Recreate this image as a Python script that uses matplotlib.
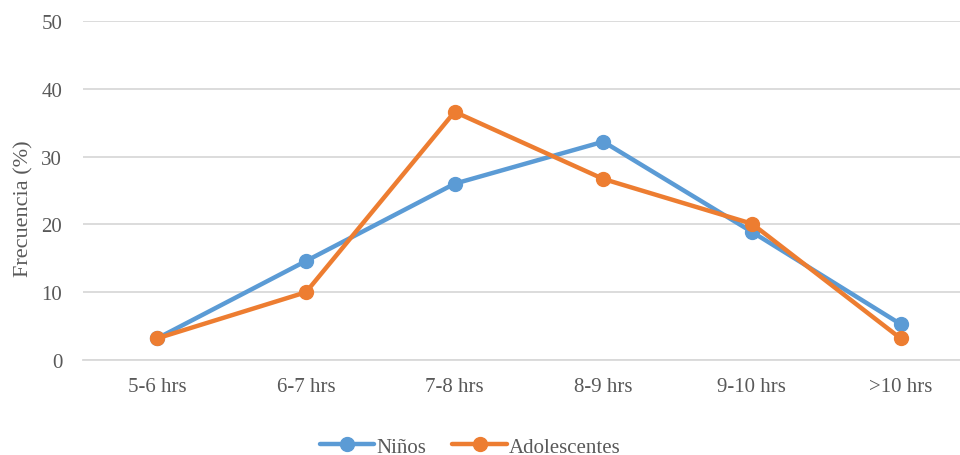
import matplotlib.pyplot as plt

categorias = ['5-6 hrs', '6-7 hrs', '7-8 hrs', '8-9 hrs', '9-10 hrs', '>10 hrs']
ninos = [3.2, 14.6, 26.0, 32.2, 18.9, 5.3]
adolescentes = [3.2, 10.0, 36.6, 26.7, 20.1, 3.2]

plt.rcParams['font.family'] = ['Liberation Serif', 'DejaVu Serif']
gris = '#595959'

fig = plt.figure(figsize=(9.6, 4.56), dpi=100)
ax = fig.add_axes([0.0865, 0.2083, 0.929, 0.7435])

x = range(len(categorias))
ax.plot(x, ninos, color='#5B9BD5', lw=3.2, marker='o', ms=10, label='Niños',
        solid_capstyle='round', solid_joinstyle='round')
ax.plot(x, adolescentes, color='#ED7D31', lw=3.2, marker='o', ms=10,
        label='Adolescentes', solid_capstyle='round', solid_joinstyle='round')

ax.set_xlim(-0.5, len(categorias) - 0.5)
ax.set_ylim(0, 50)
ax.set_yticks(range(0, 51, 10))
ax.set_xticks(list(x))
ax.set_xticklabels(categorias)
ax.grid(axis='y', color='#D9D9D9', lw=1.3)
ax.set_axisbelow(True)
for s in ['top', 'right', 'left']:
    ax.spines[s].set_visible(False)
ax.spines['bottom'].set_color('#D9D9D9')
ax.spines['bottom'].set_linewidth(1.3)
ax.tick_params(length=0, labelsize=15, colors=gris, pad=12)
ax.tick_params(axis='y', pad=15)

ax.set_ylabel('Frecuencia (%)', fontsize=16, color=gris)
ax.yaxis.set_label_coords(-0.056, 0.45)

fig.legend(loc='lower center', bbox_to_anchor=(0.49, -0.045), ncol=2,
           frameon=False, fontsize=15, labelcolor=gris, handlelength=2.6,
           columnspacing=1.25, handletextpad=0.1)

fig.savefig('out.png', dpi=100)
